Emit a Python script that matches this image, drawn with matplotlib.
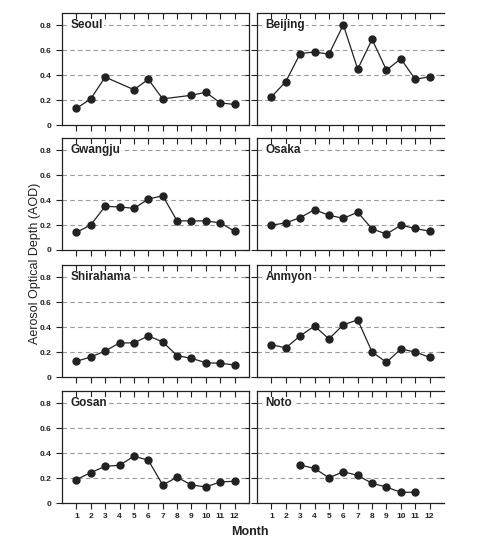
import numpy as np
import matplotlib
matplotlib.use("Agg")
import matplotlib.pyplot as plt

plt.rcParams['font.family'] = ['Liberation Sans', 'DejaVu Sans']

months = list(range(1, 13))
nan = np.nan
stations = ["Seoul", "Beijing", "Gwangju", "Osaka", "Shirahama", "Anmyon", "Gosan", "Noto"]
seoul = [0.133, 0.21, 0.385, nan, 0.284, 0.367, 0.21, nan, 0.239, 0.263, 0.178, 0.165]
beijing = [0.226, 0.348, 0.574, 0.587, 0.569, 0.805, 0.449, 0.688, 0.441, 0.532, 0.367, 0.388]
gwangju = [0.141, 0.202, 0.351, 0.346, 0.335, 0.409, 0.436, 0.234, 0.234, 0.234, 0.218, 0.151]
osaka = [0.199, 0.218, 0.260, 0.324, 0.279, 0.255, 0.303, 0.170, 0.128, 0.199, 0.173, 0.151]
shirahama = [0.126, 0.161, 0.209, 0.274, 0.274, 0.330, 0.282, 0.172, 0.150, 0.115, 0.110, 0.097]
anmyon = [0.260, 0.234, 0.330, 0.410, 0.306, 0.419, 0.459, 0.201, 0.118, 0.225, 0.201, 0.158]
gosan = [0.188, 0.244, 0.295, 0.303, 0.376, 0.344, 0.145, 0.207, 0.145, 0.129, 0.169, 0.175]
noto = [nan, nan, 0.305, 0.278, 0.203, 0.251, 0.222, 0.158, 0.128, 0.086, 0.086, nan]
series = [seoul, beijing, gwangju, osaka, shirahama, anmyon, gosan, noto]
yticks = [0, 0.2, 0.4, 0.6, 0.8]
ytick_labels = ["0", "0.2", "0.4", "0.6", "0.8"]

W, H = 483, 544
fig = plt.figure(figsize=(W / 100, H / 100), dpi=100)

col_x = [62, 257]
ax_w = 187
row_top = [13, 138, 265, 391]
ax_h = 112
dark = '#222222'
slw = 0.9

for i, (name, vals) in enumerate(zip(stations, series)):
    r, c = divmod(i, 2)
    left = col_x[c] / W
    bottom = 1 - (row_top[r] + ax_h) / H
    ax = fig.add_axes([left, bottom, ax_w / W, ax_h / H])
    x = np.array(months, dtype=float)
    y = np.array(vals, dtype=float)
    m = ~np.isnan(y)
    ax.plot(x[m], y[m], '-', color=dark, lw=0.9, zorder=3)
    ax.plot(x[m], y[m], 'o', color=dark, ms=5.0, zorder=4)
    for yt in yticks[1:]:
        ax.axhline(yt, color='#999999', lw=0.8, ls=(0, (4, 3)), zorder=1)
    ax.set_xlim(0, 13)
    ax.set_ylim(0, 0.9)
    ax.set_xticks(months)
    ax.set_yticks(yticks)
    for s in ['left', 'bottom']:
        ax.spines[s].set_linewidth(slw)
        ax.spines[s].set_color(dark)
    ax.spines['top'].set_visible(False)
    ax.spines['right'].set_visible(False)
    ax.tick_params(axis='x', top=False, bottom=True, direction='out',
                   length=4, width=0.8, color=dark)
    ax.tick_params(axis='y', left=True, right=False, direction='out', length=4, width=0.8,
                   color=dark)
    # top ticks pointing inward
    secx = ax.secondary_xaxis('top')
    secx.set_xticks(months)
    secx.tick_params(direction='in', length=4, width=0.8, color=dark, labeltop=False)
    secx.spines['top'].set_linewidth(slw)
    secx.spines['top'].set_color(dark)
    # right ticks pointing inward
    secy = ax.secondary_yaxis('right')
    secy.set_yticks(yticks)
    secy.tick_params(direction='in', length=4, width=0.8, color=dark, labelright=False)
    secy.spines['right'].set_visible(c == 0)
    secy.spines['right'].set_linewidth(slw)
    secy.spines['right'].set_color(dark)
    if r == 3:
        ax.set_xticklabels([str(mm) for mm in months], fontsize=6, fontweight='bold', color=dark)
    else:
        ax.set_xticklabels([])
    if c == 0:
        ax.set_yticklabels(ytick_labels, fontsize=6, fontweight='bold', color=dark)
    else:
        ax.set_yticklabels([])
    ax.text(0.6, 0.8, name, fontsize=8.5, fontweight='bold', color=dark, va='center', ha='left',
            bbox=dict(facecolor='white', edgecolor='none', pad=0.5), zorder=5)

fig.text(250 / W, 1 - 532 / H, "Month", fontsize=9, fontweight='bold', color=dark,
         ha='center', va='center')
fig.text(35 / W, 1 - 263 / H, "Aerosol Optical Depth (AOD)", fontsize=9, color=dark,
         rotation=90, ha='center', va='center')

fig.savefig("out.png", dpi=100)
